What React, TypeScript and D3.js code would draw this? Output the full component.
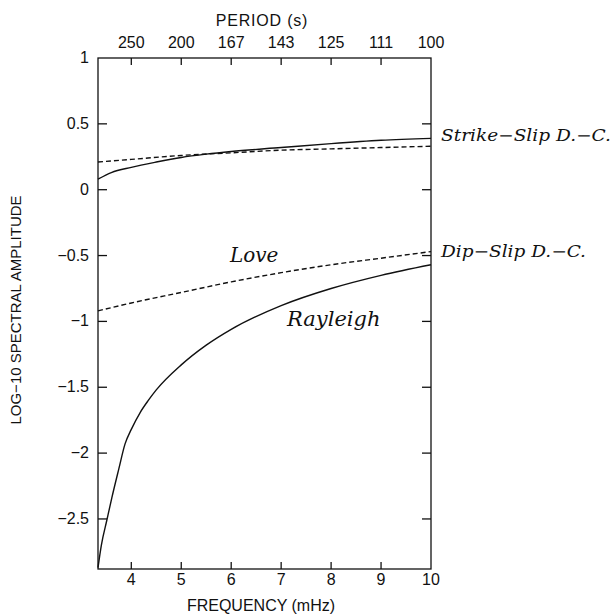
import React from "react";
import * as d3 from "d3";

const freqTicks = [4, 5, 6, 7, 8, 9, 10];
const periodLabels = ["250", "200", "167", "143", "125", "111", "100"];
const yTicks = [1, 0.5, 0, -0.5, -1, -1.5, -2, -2.5];
const yTickLabels = ["1", "0.5", "0", "\u22120.5", "\u22121", "\u22121.5", "\u22122", "\u22122.5"];

const loveFreq = [3.333, 4, 5, 6, 7, 8, 9, 10];
const ssLove = [0.21, 0.23, 0.26, 0.28, 0.3, 0.31, 0.32, 0.33];
const dsLove = [-0.92, -0.86, -0.78, -0.7, -0.63, -0.57, -0.52, -0.47];

const ssRayFreq = [3.333, 3.6, 4, 4.5, 5, 5.5, 6, 7, 8, 9, 10];
const ssRay = [0.08, 0.13, 0.17, 0.21, 0.245, 0.27, 0.29, 0.32, 0.35, 0.375, 0.39];

const dsRayFreq = [3.333, 3.4, 3.51, 3.61, 3.75, 3.875, 4, 4.18, 4.34, 4.5, 5, 5.5, 6, 7, 8, 9, 10];
const dsRay = [-2.87, -2.7, -2.51, -2.34, -2.12, -1.93, -1.82, -1.69, -1.6, -1.52, -1.33, -1.18, -1.06, -0.88, -0.75, -0.65, -0.57];

const W = 615;
const H = 616;
const L = 98;
const R = 431;
const T = 58;
const B = 569;

export default function App() {
  const x = d3.scaleLinear().domain([10 / 3, 10]).range([L, R]);
  const y = d3.scaleLinear().domain([-2.88, 1]).range([B, T]);
  const line = d3
    .line<[number, number]>()
    .x((d) => x(d[0]))
    .y((d) => y(d[1]))
    .curve(d3.curveMonotoneX);
  const zip = (a: number[], b: number[]) => a.map((v, i) => [v, b[i]] as [number, number]);
  const sans = "'Liberation Sans', Arial, sans-serif";
  const serifIt = "'DejaVu Serif', serif";
  const tickLen = 7;
  return (
    <svg
      width={W}
      height={H}
      style={{ position: "absolute", left: 0, top: 0, background: "#fff" }}
    >
      <rect x={0} y={0} width={W} height={H} fill="#fff" />
      <g stroke="#111" strokeWidth={1.3} fill="none">
        <rect x={L} y={T} width={R - L} height={B - T} />
        {freqTicks.slice(0, -1).map((f) => (
          <g key={"xt" + f}>
            <line x1={x(f)} x2={x(f)} y1={B} y2={B - tickLen} />
            <line x1={x(f)} x2={x(f)} y1={T} y2={T + tickLen} />
          </g>
        ))}
        {yTicks.slice(1).map((v) => (
          <g key={"yt" + v}>
            <line x1={L} x2={L + tickLen + 2} y1={y(v)} y2={y(v)} />
            <line x1={R} x2={R - tickLen - 2} y1={y(v)} y2={y(v)} />
          </g>
        ))}
      </g>
      <g fill="none" stroke="#111" strokeWidth={1.4}>
        <path d={line(zip(ssRayFreq, ssRay)) || ""} />
        <path d={line(zip(dsRayFreq, dsRay)) || ""} />
        <path d={line(zip(loveFreq, ssLove)) || ""} strokeDasharray="5 3" />
        <path d={line(zip(loveFreq, dsLove)) || ""} strokeDasharray="5 3" />
      </g>
      <g fontFamily={sans} fontSize={16} fill="#111">
        {freqTicks.map((f) => (
          <text key={"xl" + f} x={x(f)} y={585} textAnchor="middle">
            {f}
          </text>
        ))}
        {freqTicks.map((f, i) => (
          <text key={"pl" + f} x={x(f)} y={48} textAnchor="middle">
            {periodLabels[i]}
          </text>
        ))}
        {yTicks.map((v, i) => (
          <text key={"yl" + v} x={89} y={y(v) + 5} textAnchor="end">
            {yTickLabels[i]}
          </text>
        ))}
        <text x={262} y={26} textAnchor="middle" letterSpacing={0.8}>
          PERIOD (s)
        </text>
        <text x={261} y={611} textAnchor="middle">
          FREQUENCY (mHz)
        </text>
        <text
          transform={`translate(21, 310) rotate(-90)`}
          textAnchor="middle"
          fontSize={15}
        >
          LOG{"\u2212"}10 SPECTRAL AMPLITUDE
        </text>
      </g>
      <g fontFamily={serifIt} fontStyle="italic" fill="#111">
        <text x={441} y={141} fontSize={16} textLength={170} lengthAdjust="spacingAndGlyphs">
          Strike{"\u2212"}Slip D.{"\u2212"}C.
        </text>
        <text x={441} y={257} fontSize={16} textLength={145} lengthAdjust="spacingAndGlyphs">
          Dip{"\u2212"}Slip D.{"\u2212"}C.
        </text>
        <text x={230} y={262} fontSize={20}>
          Love
        </text>
        <text x={287} y={326} fontSize={21}>
          Rayleigh
        </text>
      </g>
    </svg>
  );
}
